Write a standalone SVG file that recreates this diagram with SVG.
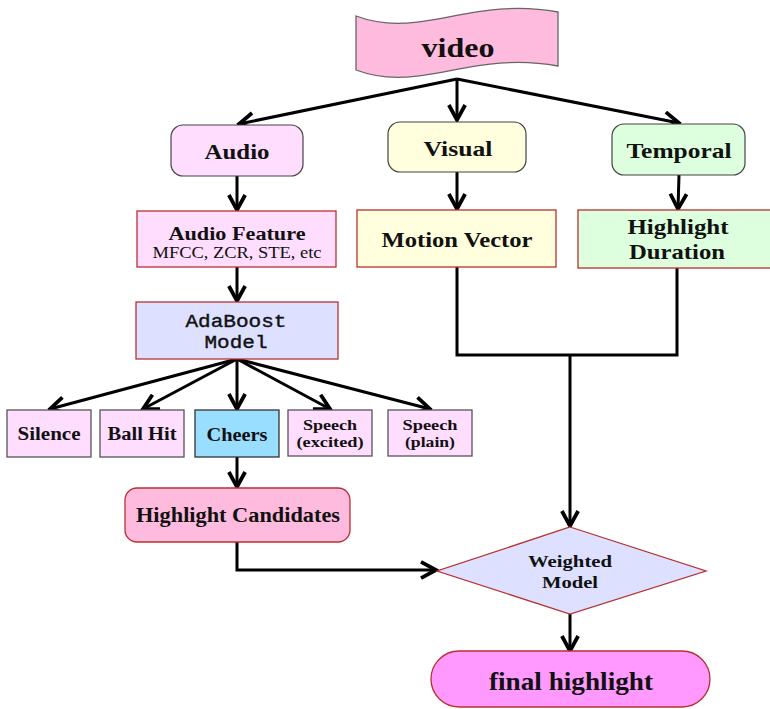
<svg xmlns="http://www.w3.org/2000/svg" width="770" height="709" viewBox="0 0 770 709">
<defs>
<marker id="arr" markerUnits="userSpaceOnUse" markerWidth="20" markerHeight="20" viewBox="-14 -8 16 16" refX="0" refY="0" orient="auto">
<path d="M-12,-6.5 L0,0 L-12,6.5" fill="none" stroke="#000" stroke-width="3" stroke-linejoin="miter"/>
</marker>
</defs>
<style>
text{font-family:"Liberation Serif","Times New Roman",serif;font-weight:bold;text-anchor:middle;fill:#111}
.mono{font-family:"Liberation Mono","Courier New",monospace;font-weight:normal;stroke:#111;stroke-width:0.4}
.reg{font-weight:normal}
.c{fill:none;stroke:#000;stroke-width:3}
.ca{fill:none;stroke:#000;stroke-width:3;marker-end:url(#arr)}
.rd{stroke:#b83030;stroke-width:1.3}
.gy{stroke:#555;stroke-width:1.3}
</style>
<g id="connectors">
<line class="ca" x1="457" y1="79" x2="239" y2="124"/>
<line class="ca" x1="457" y1="79" x2="457" y2="120"/>
<line class="ca" x1="457" y1="79" x2="679" y2="123"/>
<line class="ca" x1="237" y1="176" x2="237" y2="210"/>
<line class="ca" x1="457" y1="172" x2="457" y2="209"/>
<line class="ca" x1="679" y1="175" x2="678" y2="209"/>
<line class="ca" x1="237" y1="267" x2="237" y2="301"/>
<line class="ca" x1="237" y1="359" x2="50" y2="409"/>
<line class="ca" x1="237" y1="359" x2="143" y2="409"/>
<line class="ca" x1="237" y1="359" x2="237" y2="409"/>
<line class="ca" x1="237" y1="359" x2="330" y2="409"/>
<line class="ca" x1="237" y1="359" x2="430" y2="409"/>
<line class="ca" x1="237" y1="457" x2="237" y2="487"/>
<polyline class="c" points="457,267 457,355 677,355 677,268"/>
<line class="ca" x1="570" y1="355" x2="570" y2="526"/>
<polyline class="ca" points="237,542 237,570 436,570"/>
<line class="ca" x1="570" y1="614" x2="570" y2="651"/>
</g>
<g id="video">
<path d="M356,16 C420,40 470,-4 558,12 L558,66 C470,50 420,94 356,70 Z" fill="#ffbbdd" stroke="#666" stroke-width="1.3"/>
<text x="458" y="57" font-size="27" textLength="73" lengthAdjust="spacingAndGlyphs">video</text>
</g>
<g id="audio">
<rect x="171" y="125" width="132" height="51" rx="12" fill="#ffddff" stroke="#444" stroke-width="1.2"/>
<text x="237" y="159" font-size="22" textLength="65" lengthAdjust="spacingAndGlyphs">Audio</text>
</g>
<g id="visual">
<rect x="388" y="122" width="138" height="50" rx="12" fill="#ffffdd" stroke="#444" stroke-width="1.2"/>
<text x="458" y="156" font-size="22" textLength="69" lengthAdjust="spacingAndGlyphs">Visual</text>
</g>
<g id="temporal">
<rect x="612" y="124" width="133" height="51" rx="12" fill="#ddffdd" stroke="#444" stroke-width="1.2"/>
<text x="679" y="158" font-size="22" textLength="105" lengthAdjust="spacingAndGlyphs">Temporal</text>
</g>
<g id="audio-feature">
<rect class="rd" x="137" y="211" width="199" height="56" fill="#ffddff"/>
<text x="237" y="240" font-size="18" textLength="137" lengthAdjust="spacingAndGlyphs">Audio Feature</text>
<text class="reg" x="237" y="258" font-size="16" textLength="169" lengthAdjust="spacingAndGlyphs">MFCC, ZCR, STE, etc</text>
</g>
<g id="motion-vector">
<rect class="rd" x="357" y="210" width="199" height="57" fill="#ffffdd"/>
<text x="457" y="247" font-size="21" textLength="151" lengthAdjust="spacingAndGlyphs">Motion Vector</text>
</g>
<g id="highlight-duration">
<rect class="rd" x="578" y="210" width="195" height="58" fill="#ddffdd"/>
<text x="678" y="234" font-size="21" textLength="101" lengthAdjust="spacingAndGlyphs">Highlight</text>
<text x="677" y="259" font-size="21" textLength="96" lengthAdjust="spacingAndGlyphs">Duration</text>
</g>
<g id="adaboost">
<rect class="rd" x="136" y="302" width="202" height="57" fill="#dde0ff"/>
<text class="mono" x="236" y="327" font-size="19" textLength="101" lengthAdjust="spacingAndGlyphs">AdaBoost</text>
<text class="mono" x="236" y="348" font-size="19" textLength="63" lengthAdjust="spacingAndGlyphs">Model</text>
</g>
<g id="silence">
<rect class="gy" x="7" y="410" width="84" height="47" fill="#ffddff"/>
<text x="49" y="440" font-size="18" textLength="63" lengthAdjust="spacingAndGlyphs">Silence</text>
</g>
<g id="ballhit">
<rect class="gy" x="100" y="410" width="84" height="47" fill="#ffddff"/>
<text x="142" y="440" font-size="18" textLength="69" lengthAdjust="spacingAndGlyphs">Ball Hit</text>
</g>
<g id="cheers">
<rect x="195" y="410" width="84" height="47" fill="#99ddff" stroke="#333" stroke-width="1.3"/>
<text x="237" y="441" font-size="18" textLength="61" lengthAdjust="spacingAndGlyphs">Cheers</text>
</g>
<g id="speech-excited">
<rect class="gy" x="288" y="410" width="84" height="46" fill="#ffddff"/>
<text x="330" y="430" font-size="15" textLength="54" lengthAdjust="spacingAndGlyphs">Speech</text>
<text x="330" y="447" font-size="15" textLength="67" lengthAdjust="spacingAndGlyphs">(excited)</text>
</g>
<g id="speech-plain">
<rect class="gy" x="388" y="410" width="84" height="46" fill="#ffddff"/>
<text x="430" y="430" font-size="15" textLength="55" lengthAdjust="spacingAndGlyphs">Speech</text>
<text x="430" y="447" font-size="15" textLength="50" lengthAdjust="spacingAndGlyphs">(plain)</text>
</g>
<g id="highlight-candidates">
<rect class="rd" x="125" y="488" width="225" height="54" rx="12" fill="#ffbbdd"/>
<text x="238" y="522" font-size="20" textLength="204" lengthAdjust="spacingAndGlyphs">Highlight Candidates</text>
</g>
<g id="weighted-model">
<polygon class="rd" points="570,527 706,571 570,614 437,571" fill="#dde0ff"/>
<text x="570" y="567" font-size="17" textLength="84" lengthAdjust="spacingAndGlyphs">Weighted</text>
<text x="570" y="588" font-size="17" textLength="56" lengthAdjust="spacingAndGlyphs">Model</text>
</g>
<g id="final-highlight">
<rect class="rd" x="431" y="651" width="279" height="56" rx="28" fill="#ff99ff"/>
<text x="571" y="690" font-size="26" textLength="164" lengthAdjust="spacingAndGlyphs">final highlight</text>
</g>
</svg>
